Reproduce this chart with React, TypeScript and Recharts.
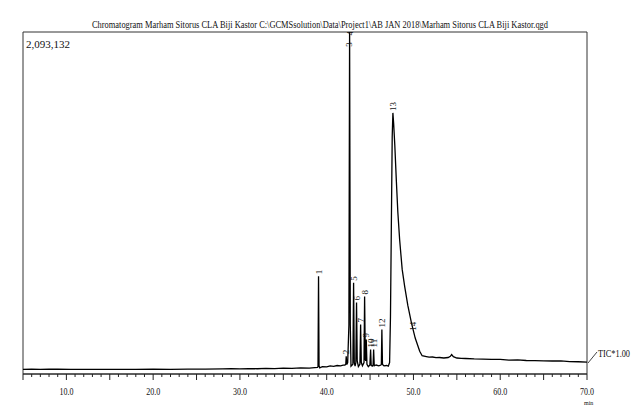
import {
  ComposedChart,
  Line,
  Scatter,
  XAxis,
  YAxis,
  ReferenceArea,
} from "recharts";

// retention time (min)
const retentionTimes = [
  5.0, 6.0, 7.0, 8.0, 9.0, 10.5, 12.0, 14.0, 16.0, 18.0, 20.0, 22.0, 24.0, 26.0,
  28.0, 29.0, 30.0, 31.0, 32.0, 33.0, 34.0, 35.0, 36.0, 37.0, 38.0, 38.6, 38.95,
  39.0, 39.06, 39.12, 39.2, 39.5, 40.0, 40.4, 40.8, 41.2, 41.6, 41.9, 42.1, 42.2,
  42.25, 42.32, 42.42, 42.56, 42.64, 42.72, 42.8, 43.02, 43.1, 43.18, 43.27,
  43.36, 43.44, 43.52, 43.65, 43.83, 43.91, 43.99, 44.12, 44.3, 44.37, 44.45,
  44.5, 44.56, 44.64, 44.8, 44.98, 45.06, 45.13, 45.25, 45.35, 45.41, 45.48,
  45.7, 46.0, 46.25, 46.3, 46.36, 46.43, 46.6, 46.9, 47.1, 47.25, 47.35, 47.45,
  47.55, 47.63, 47.72, 47.85, 48.03, 48.2, 48.41, 48.7, 48.99, 49.35, 49.76,
  50.2, 50.72, 51.0, 51.49, 51.8, 52.2, 52.6, 53.0, 53.5, 54.0, 54.25, 54.4,
  54.6, 55.0, 55.5, 56.0, 57.0, 58.0, 59.0, 60.0, 61.0, 62.0, 63.0, 64.0, 65.0,
  66.0, 67.0, 68.0, 69.0, 70.0,
];

// TIC intensity (counts)
const ticIntensity = [
  28000, 29500, 28500, 30000, 29000, 28500, 28000, 28500, 28000, 28500, 29000,
  28500, 29500, 30000, 31000, 32500, 31000, 33000, 32000, 34000, 33000, 35500,
  34500, 37000, 36500, 39000, 40000, 45000, 597600, 50000, 38000, 45000, 44000,
  50000, 47000, 52000, 50000, 54000, 55000, 60000, 108800, 58000, 70000, 300000,
  2093132, 300000, 48000, 60000, 559000, 70000, 48000, 70000, 437000, 80000,
  45000, 60000, 302500, 70000, 50000, 70000, 475000, 90000, 80000, 211000,
  60000, 45000, 55000, 150000, 52000, 48000, 55000, 150000, 50000, 55000, 50000,
  55000, 60000, 272000, 58000, 50000, 52000, 48000, 70000, 350000, 900000,
  1450000, 1598000, 1530000, 1400000, 1180000, 990000, 820000, 640000, 535000,
  420000, 315000, 220000, 139000, 112000, 107000, 103000, 104000, 100000,
  101000, 98000, 101000, 108000, 119000, 106000, 98000, 96000, 95000, 92000,
  91000, 89000, 89000, 85000, 86000, 82500, 82000, 80000, 79500, 80000, 76000,
  75000, 73000,
];

const peakNames = ["1", "2", "3", "4", "5", "6", "7", "8", "9", "10", "11", "12", "13", "14"];
const peakTimes = [39.06, 42.25, 42.58, 42.64, 43.1, 43.44, 43.91, 44.37, 44.56, 45.06, 45.41, 46.36, 47.63, 49.95];
const peakTops = [597600, 108800, 1990000, 2060000, 559000, 437000, 302500, 475000, 211000, 150000, 150000, 272000, 1598000, 253000];

const timeLabels = [10, 20, 30, 40, 50, 60, 70];
const maxIntensity = 2093132;

const trace = retentionTimes.map((t, i) => ({ t, v: ticIntensity[i] }));
const peaks = peakNames.map((label, i) => ({ t: peakTimes[i], v: peakTops[i], label }));
const minorTicks = Array.from({ length: 66 }, (_, i) => 5 + i);

const serif = "'Liberation Serif', 'DejaVu Serif', serif";

function TimeTick({ x, y, payload }: any) {
  const v = payload.value as number;
  const major = v % 5 === 0;
  const labelled = timeLabels.includes(v);
  return (
    <g>
      <line x1={x} x2={x} y1={y} y2={y + (major ? 6 : 3)} stroke="#222" />
      {labelled && (
        <text
          x={x}
          y={y + 21}
          textAnchor="middle"
          fontSize={11}
          fontFamily={serif}
          textLength={14}
          lengthAdjust="spacingAndGlyphs"
          fill="#111"
        >
          {v.toFixed(1)}
        </text>
      )}
    </g>
  );
}

function PeakLabel({ cx, cy, payload }: any) {
  if (cx == null || cy == null) return <g />;
  return (
    <text
      x={cx + 2}
      y={cy}
      transform={`rotate(-90 ${cx} ${cy})`}
      fontSize={9}
      fontFamily={serif}
      dominantBaseline="central"
      fill="#111"
    >
      {payload.label}
    </text>
  );
}

export default function App() {
  return (
    <div style={{ position: "absolute", left: 0, top: 0, width: 634, height: 408, background: "#fff" }}>
      <ComposedChart
        width={634}
        height={408}
        data={trace}
        margin={{ top: 32, right: 47, left: 23, bottom: 0 }}
      >
        <XAxis
          dataKey="t"
          type="number"
          domain={[5, 70]}
          ticks={minorTicks}
          interval={0}
          tickSize={0}
          tickMargin={0}
          height={34}
          stroke="#222"
          tick={<TimeTick />}
          allowDataOverflow
        />
        <YAxis dataKey="v" type="number" domain={[0, maxIntensity]} hide allowDataOverflow />
        <ReferenceArea x1={5} x2={70} y1={0} y2={maxIntensity} fill="none" stroke="#333" strokeWidth={1} />
        <Line
          type="linear"
          dataKey="v"
          stroke="#000"
          strokeWidth={1.3}
          dot={false}
          isAnimationActive={false}
        />
        <Scatter data={peaks} dataKey="v" shape={<PeakLabel />} isAnimationActive={false} />
      </ComposedChart>
      <svg
        width={634}
        height={408}
        style={{ position: "absolute", left: 0, top: 0, pointerEvents: "none" }}
      >
        {/* condensed lettering: small font stretched vertically, squeezed to width */}
        <g transform="translate(320 28) scale(1 1.25)">
          <text
            x={0}
            y={0}
            textAnchor="middle"
            fontSize={9}
            fontFamily={serif}
            textLength={456}
            lengthAdjust="spacingAndGlyphs"
            fill="#111"
          >
            Chromatogram Marham Sitorus CLA Biji Kastor C:\GCMSsolution\Data\Project1\AB JAN 2018\Marham Sitorus CLA Biji Kastor.qgd
          </text>
        </g>
        <text x={26} y={48} fontSize={11} fontFamily={serif} textLength={44} lengthAdjust="spacingAndGlyphs" fill="#111">
          2,093,132
        </text>
        <line x1={588} y1={363} x2={597} y2={352} stroke="#444" />
        <g transform="translate(598 357) scale(1 1.3)">
          <text
            x={0}
            y={0}
            fontSize={8}
            fontFamily={serif}
            textLength={32}
            lengthAdjust="spacingAndGlyphs"
            fill="#111"
          >
            TIC*1.00
          </text>
        </g>
        <text x={584} y={405} fontSize={6} fontFamily={serif} fill="#111">
          min
        </text>
      </svg>
    </div>
  );
}
